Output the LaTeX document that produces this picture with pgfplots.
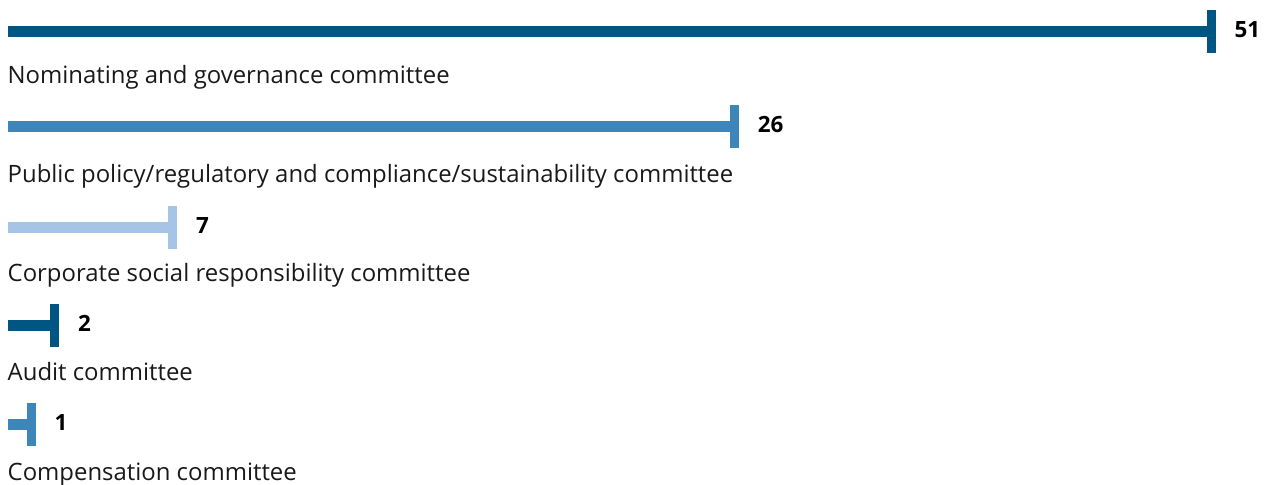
\documentclass[border=0pt]{standalone}
\usepackage{pgfplots}
\pgfplotsset{compat=1.18}
\usepackage{fontspec}
\setmainfont{Open Sans}
\definecolor{cDark}{RGB}{0,85,130}
\definecolor{cMid}{RGB}{62,134,186}
\definecolor{cLight}{RGB}{165,196,230}
\definecolor{txt}{RGB}{25,25,25}
\pgfplotsset{
    capbar/.style={line width=11bp, mark=|, mark indices={2},
        mark options={line width=9bp, mark size=21.5bp},
        point meta=explicit symbolic, nodes near coords,
        nodes near coords style={anchor=base west, xshift=19bp, yshift=-6bp,
            font=\fontsize{22.5}{22.5}\selectfont\bfseries, text=black, inner sep=0pt}},
}
\begin{document}
\begin{tikzpicture}
\begin{axis}[
    scale only axis,
    width=1264bp, height=485bp,
    xmin=-0.318, xmax=53.24,
    ymin=-485, ymax=0,
    hide axis,
    clip=false,
]
% bar length, row (pixels from top), [label]
\addplot[capbar, color=cDark]  coordinates {(0,-32) [] (51,-32) [51]};
\addplot[capbar, color=cMid]   coordinates {(0,-127) [] (30.8,-127) [26]};
\addplot[capbar, color=cLight] coordinates {(0,-228) [] (7,-228) [7]};
\addplot[capbar, color=cDark]  coordinates {(0,-326) [] (2,-326) [2]};
\addplot[capbar, color=cMid]   coordinates {(0,-425) [] (1,-425) [1]};

\begin{scope}[every node/.style={anchor=base west, inner sep=0pt, text=txt,
        font=\fontsize{24}{24}\selectfont}]
\node at (axis cs:0,-84)  {Nominating and governance committee};
\node at (axis cs:0,-183) {Public policy/regulatory and compliance/sustainability committee};
\node at (axis cs:0,-282) {Corporate social responsibility committee};
\node at (axis cs:0,-381) {Audit committee};
\node at (axis cs:0,-480) {Compensation committee};
\end{scope}
\end{axis}
\pgfresetboundingbox
\path (0,0) rectangle (1264bp,485bp);
\end{tikzpicture}
\end{document}
